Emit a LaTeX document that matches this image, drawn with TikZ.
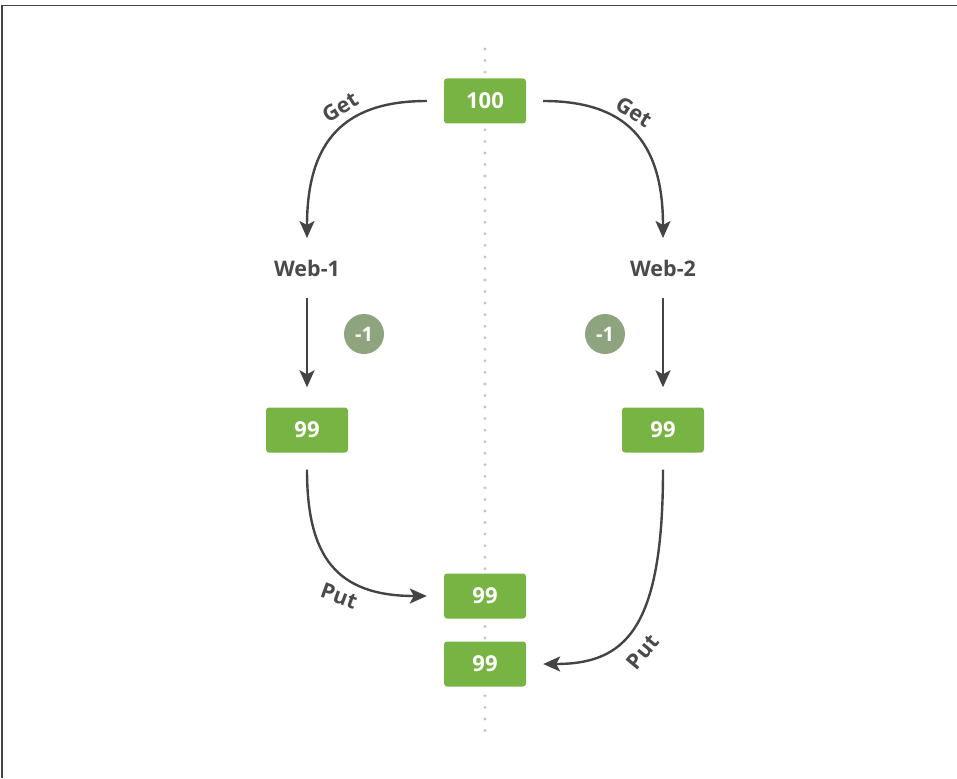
\documentclass[tikz,border=0pt]{standalone}
\usepackage{fontspec}
\setmainfont{Open Sans}
\usetikzlibrary{arrows.meta}
\definecolor{boxgreen}{HTML}{77B443}
\definecolor{circgreen}{HTML}{8DA47E}
\definecolor{arrowgray}{HTML}{444444}
\definecolor{dotgray}{HTML}{C4C4C4}
\definecolor{textgray}{HTML}{4A4A4A}
\tikzset{
  valbox/.style={draw=none, fill=boxgreen, rounded corners=3pt, minimum width=82pt, minimum height=45pt, text=white, font=\bfseries\fontsize{22}{24}\selectfont, inner sep=0pt},
  decbadge/.style={circle, fill=circgreen, minimum size=40pt, inner sep=0pt, text=white, font=\bfseries\fontsize{20}{22}\selectfont},
  webtxt/.style={text=textgray, font=\bfseries\fontsize{21.5}{23}\selectfont, inner sep=0pt},
  lbl/.style={text=textgray, font=\bfseries\fontsize{21.5}{23}\selectfont, inner sep=0pt},
  conn/.style={draw=arrowgray, line width=2.4pt, -{Stealth[length=17pt,width=15pt,inset=4pt]}},
}
\begin{document}
\begin{tikzpicture}[x=1pt,y=-1pt]
\useasboundingbox (0,0) rectangle (957,778);
% frame
\draw[arrowgray, line width=1.5pt] (2,778) -- (2,5.5) -- (957,5.5);
% dotted axis
\draw[dotgray, line width=3.2pt, line cap=round, dash pattern=on 0pt off 11.55pt] (485,49) -- (485,732);
% boxes
\node[valbox] (top) at (485,101) {100};
\node[valbox] (l99) at (307,430) {99};
\node[valbox] (r99) at (663,430) {99};
\node[valbox] (m1) at (485,596) {99};
\node[valbox] (m2) at (485,664) {99};
% web labels
\node[webtxt] (w1) at (307,268) {Web-1};
\node[webtxt] (w2) at (663,268) {Web-2};
% badges
\node[decbadge] (b1) at (364,334) {-1};
\node[decbadge] (b2) at (605,334) {-1};
% connectors
\coordinate (gl) at (307,238);
\coordinate (gr) at (663,238);
\draw[conn] ([xshift=-17pt]top.west) .. controls (345,101) and (307,140) .. (gl);
\draw[conn] ([xshift=17pt]top.east) .. controls (625,101) and (663,140) .. (gr);
\draw[conn] ([yshift=-22pt]w1.south) -- ([yshift=20pt]l99.north);
\draw[conn] ([yshift=-22pt]w2.south) -- ([yshift=20pt]r99.north);
\draw[conn] ([yshift=-17pt]l99.south) .. controls (307,555) and (335,596) .. ([xshift=-17pt]m1.west);
\draw[conn] ([yshift=-17pt]r99.south) .. controls (663,630) and (625,664) .. ([xshift=17pt]m2.east);
% connector labels
\node[lbl, rotate=32] (getl) at (340,107) {Get};
\node[lbl, rotate=-32] (getr) at (634,112) {Get};
\node[lbl, rotate=-20] (putl) at (339,596) {Put};
\node[lbl, rotate=50] (putr) at (643,652) {Put};
\end{tikzpicture}
\end{document}
